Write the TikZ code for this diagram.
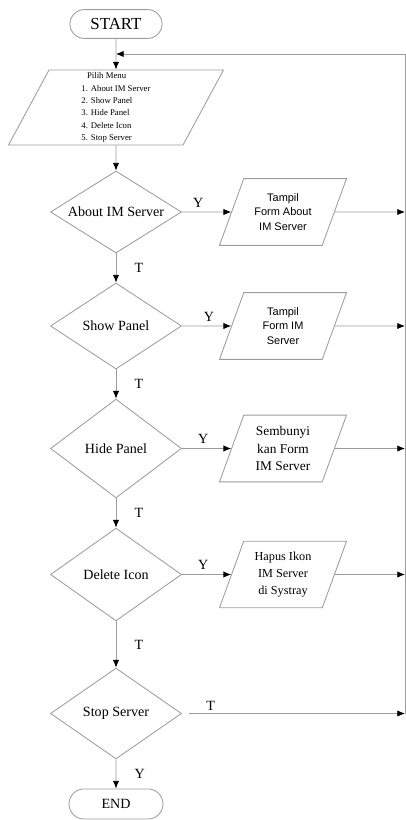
\documentclass[tikz,border=0pt]{standalone}
\usepackage{fontspec}
\setmainfont{Liberation Serif}
\setsansfont{Liberation Sans}
\usepackage{xcolor}
\usetikzlibrary{shapes.geometric, shapes.misc, arrows.meta, positioning}
\definecolor{garis}{HTML}{9C9C9C}

\begin{document}
\begin{tikzpicture}[x=0.025cm, y=-0.025cm,
    >={Latex[length=5.5pt, width=4.5pt, color=black]},
    terminal/.style={rounded rectangle, draw=garis, line width=0.6pt, minimum width=2.3cm, minimum height=0.72cm, inner sep=0pt},
    keputusan/.style={diamond, shape aspect=1.6, draw=garis, line width=0.6pt, minimum width=3.275cm, minimum height=2.25cm, inner sep=0pt, font=\fontsize{10}{12}\selectfont},
    io/.style={trapezium, trapezium left angle=70, trapezium right angle=110, trapezium stretches body, draw=garis, line width=0.6pt, minimum width=3.175cm, minimum height=1.65cm, inner xsep=1pt, inner ysep=10.5pt, align=center},
    alur/.style={->, draw=garis, line width=0.6pt},
    lbl/.style={font=\fontsize{10}{12}\selectfont, inner sep=1pt}]

    \useasboundingbox (0,0) rectangle (406,820);

    % 1. Mulai dan menu
    \node[terminal, font=\fontsize{12}{14}\selectfont] (start) at (116,24) {START};
    \node[io, trapezium left angle=61, trapezium right angle=119, minimum width=5.375cm, minimum height=1.875cm, inner ysep=1.2pt, align=left, font=\fontsize{6.2}{8.8}\selectfont] (menu) at (116,107.5)
        {\hspace*{4pt}Pilih Menu\\1. About IM Server\\2. Show Panel\\3. Hide Panel\\4. Delete Icon\\5. Stop Server};
    \coordinate (kanan) at (405,54);

    % 2. Kotak keputusan
    \node[keputusan, minimum height=2.05cm] (about) at (116,212) {About IM Server};
    \node[keputusan, minimum height=2.15cm] (show) at (116,326) {Show Panel};
    \node[keputusan, minimum height=2.47cm] (hide) at (116,448.5) {Hide Panel};
    \node[keputusan, minimum height=2.32cm] (delete) at (116,574.5) {Delete Icon};
    \node[keputusan, minimum height=2.27cm] (stop) at (116,713.5) {Stop Server};
    \node[terminal, minimum width=2.35cm, minimum height=0.75cm, font=\fontsize{10}{12}\selectfont] (end) at (116,804) {END};

    % 3. Kotak output
    \node[io, font=\sffamily\fontsize{7.8}{10.4}\selectfont] (tampil1) at (283,212) {Tampil\\Form About\\IM Server};
    \node[io, font=\sffamily\fontsize{7.8}{10.4}\selectfont] (tampil2) at (283,326) {Tampil\\Form IM\\Server};
    \node[io, inner ysep=7.8pt, font=\fontsize{9.5}{12.6}\selectfont] (sembunyi) at (283,448.5) {Sembunyi\\kan Form\\IM Server};
    \node[io, inner ysep=7.7pt, font=\fontsize{8.7}{12}\selectfont] (hapus) at (283,574.5) {Hapus Ikon\\IM Server\\di Systray};

    % 4. Garis alur
    \draw[alur] (start) -- (menu);
    \draw[alur] (menu) -- (about);
    \draw[alur] (about) -- node[lbl, right=12pt] (t1) {T} (show);
    \draw[alur] (show) -- node[lbl, right=12pt] (t2) {T} (hide);
    \draw[alur] (hide) -- node[lbl, right=12pt] (t3) {T} (delete);
    \draw[alur] (delete) -- node[lbl, right=12pt] (t4) {T} (stop);
    \draw[alur] (stop) -- node[lbl, right=12pt] (y5) {Y} (end);

    \draw[alur] (about) -- node[lbl, above=2pt, pos=0.33] (y1) {Y} (tampil1);
    \draw[alur] (show) -- node[lbl, above=2pt, pos=0.55] (y2) {Y} (tampil2);
    \draw[alur] (hide) -- node[lbl, above=2pt, pos=0.43] (y3) {Y} (sembunyi);
    \draw[alur] (delete) -- node[lbl, above=2pt, pos=0.43] (y4) {Y} (hapus);

    \draw[alur] (tampil1) -- (tampil1 -| kanan);
    \draw[alur] (tampil2) -- (tampil2 -| kanan);
    \draw[alur] (sembunyi) -- (sembunyi -| kanan);
    \draw[alur] (hapus) -- (hapus -| kanan);
    \draw[alur] ([xshift=5pt]stop.east) -- node[lbl, above=1pt, pos=0.1] (t5) {T} (stop -| kanan);

    % 5. Kembali ke menu
    \draw[alur] (kanan |- stop) -- (kanan) -- (kanan -| start);
\end{tikzpicture}
\end{document}
